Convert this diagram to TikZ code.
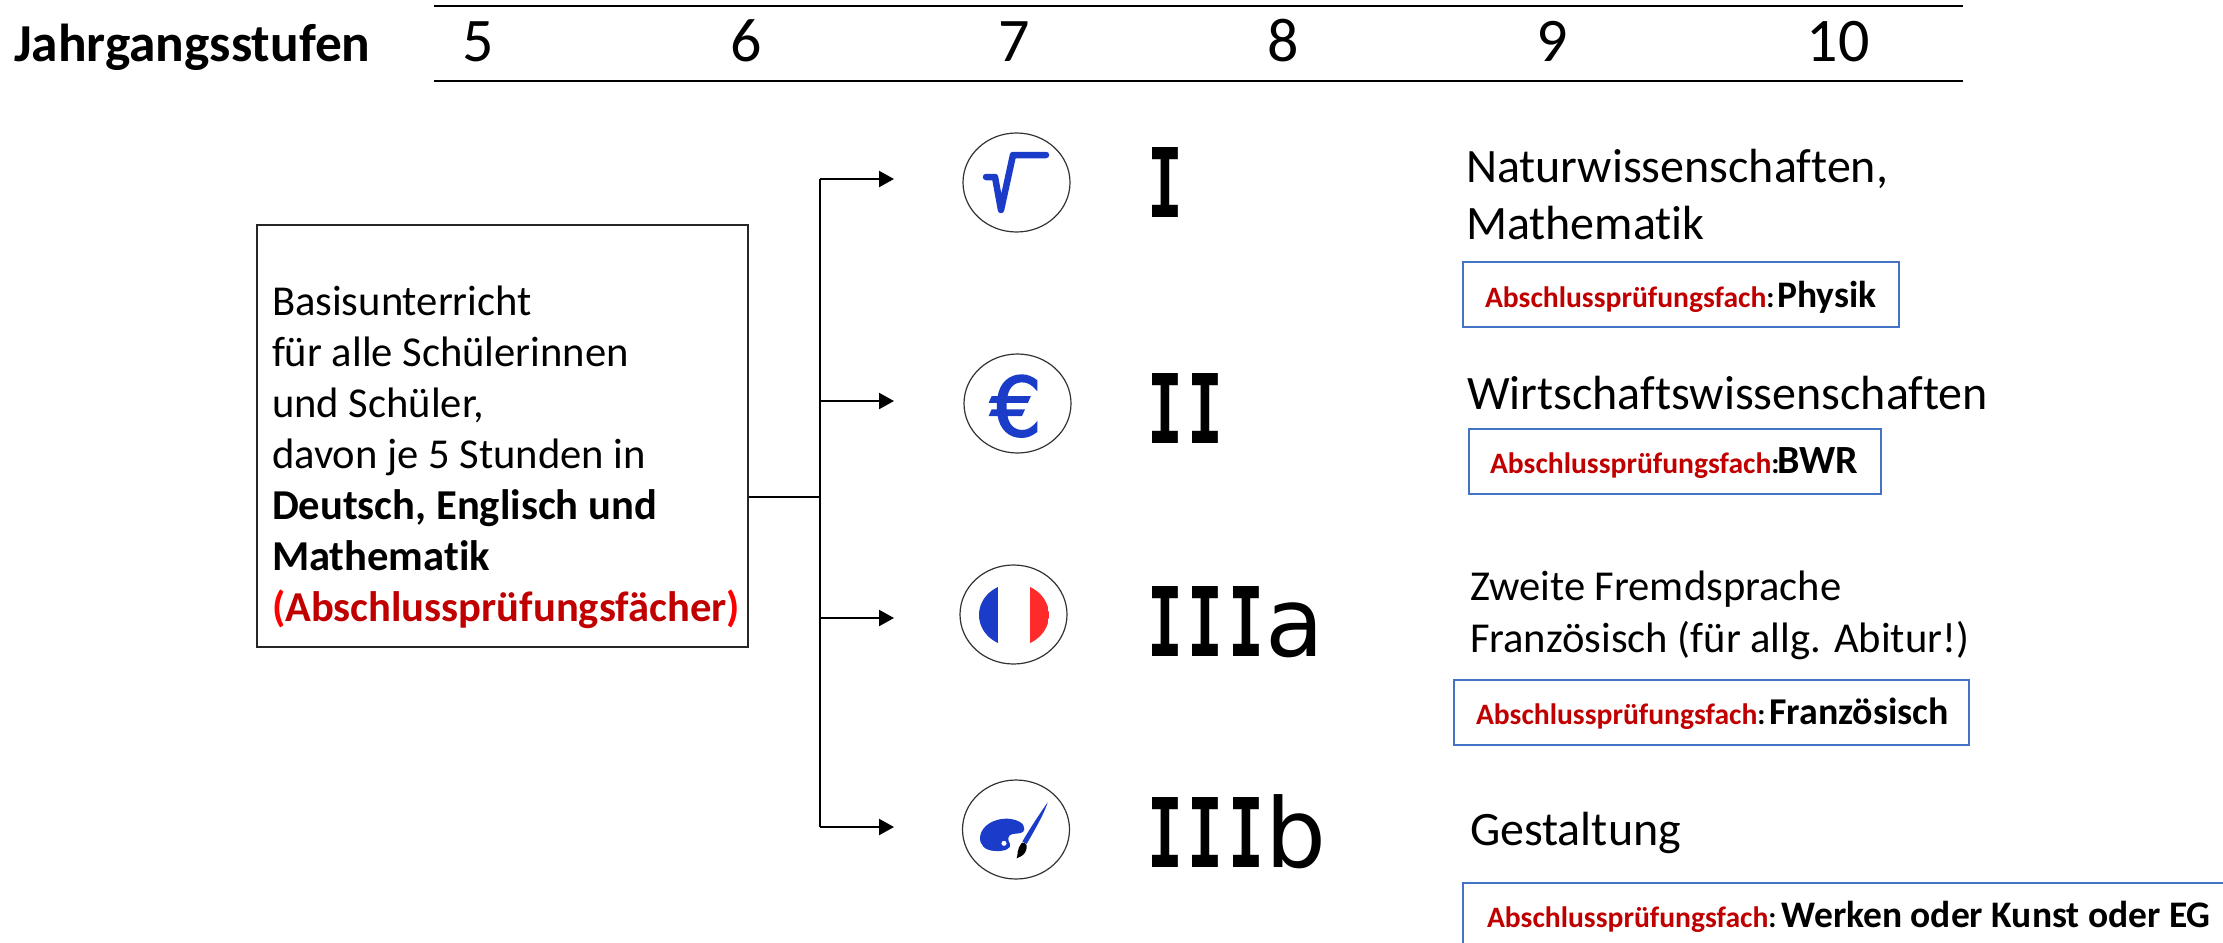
\documentclass[tikz,border=0pt]{standalone}
\usepackage{fontspec}
\setmainfont[Ligatures=NoCommon]{Carlito}
\newfontfamily\iconfont[FakeBold=2]{DejaVu Sans}
\newfontfamily\romfont[FakeStretch=0.62]{DejaVu Sans Mono Bold}
\newfontfamily\romlc{DejaVu Sans}
\usetikzlibrary{arrows.meta,shapes.geometric}
\definecolor{dred}{HTML}{C00000}
\definecolor{bblue}{HTML}{4472C4}
\definecolor{iblue}{HTML}{1A3CC8}
\definecolor{fred}{HTML}{FF2A2A}
\newcommand{\fs}[2]{\fontsize{#1}{#2}\selectfont}
\newcommand{\RI}{\makebox[41pt][l]{\hspace{-3pt}\fs{96}{110}\romfont I}}
\newcommand{\Lc}[1]{{\fs{96}{110}\romlc #1}}
\newcommand{\Abs}[1]{{\fs{29.6}{36}\bfseries\textcolor{dred}{Abschlussprüfungsfach}:}#1}
\tikzset{
  txt/.style={inner sep=0pt,outer sep=0pt,anchor=base west,align=left},
  yearno/.style={inner sep=0pt,outer sep=0pt,anchor=base,font=\fs{62}{70}},
  topic/.style={txt,font=\fs{48}{57}},
  topicsm/.style={txt,font=\fs{42.6}{52}},
  examtxt/.style={txt,font=\fs{37.5}{42}\bfseries},
  pbox/.style={draw=bblue,line width=2pt,inner sep=0pt},
  conn/.style={line width=2.2pt,black},
  tipped/.style={conn,-{Triangle[length=15pt,width=16pt]}},
  icon/.style={draw=black!80,line width=1.2pt,ellipse,inner sep=0pt},
}
\begin{document}
\begin{tikzpicture}[x=1pt,y=-1pt]
\path[clip,use as bounding box] (0,0) rectangle (2223,942);
% header
\node[txt,font=\fs{53.4}{60}\bfseries] (head) at (14,61) {Jahrgangsstufen};
\coordinate (tl) at (434,6); \coordinate (tr) at (1963,6);
\coordinate (bl) at (434,81); \coordinate (br) at (1963,81);
\draw[conn] (tl) -- (tr);
\draw[conn] (bl) -- (br);
\node[yearno] (y5) at (478,62) {5};
\node[yearno] (y6) at (746,62) {6};
\node[yearno] (y7) at (1014,62) {7};
\node[yearno] (y8) at (1283,62) {8};
\node[yearno] (y9) at (1552,62) {9};
\node[yearno] (y10) at (1838,62) {10};
% basis box
\node[draw=black!85,line width=2pt,inner sep=0pt,minimum width=491pt,minimum height=422pt] (basis) at (502.5,436) {};
\node[txt,font=\fs{42.6}{51}] (basistext) at (272,621.5) {Basisunterricht\\
für alle Schülerinnen\\
und Schüler,\\
davon je 5 Stunden in\\
\textbf{Deutsch, Englisch und}\\
\textbf{Mathematik}\\
\textbf{\textcolor{red}{(}\textcolor{dred}{Abschlussprüfungsfächer}\textcolor{red}{)}}};
% connectors
\coordinate (jmid) at (820,497);
\coordinate (j1) at (820,179); \coordinate (j2) at (820,401);
\coordinate (j3) at (820,618); \coordinate (j4) at (820,827);
\coordinate (a1) at (894,179); \coordinate (a2) at (894,401);
\coordinate (a3) at (894,618); \coordinate (a4) at (894,827);
\draw[conn] (basis.east |- jmid) -- (jmid);
\draw[conn] (j1) -- (j4);
\draw[tipped] (j1) -- (a1);
\draw[tipped] (j2) -- (a2);
\draw[tipped] (j3) -- (a3);
\draw[tipped] (j4) -- (a4);
% icons
\node[icon,minimum width=107pt,minimum height=99pt] (c1) at (1016.5,182.5) {};
\node[icon,minimum width=107pt,minimum height=99pt] (c2) at (1017.5,403.5) {};
\node[icon,minimum width=107pt,minimum height=99pt] (c3) at (1013.5,614.5) {};
\node[icon,minimum width=107pt,minimum height=99pt] (c4) at (1016,829.5) {};
\draw[iblue,line width=6.5pt,line cap=round,line join=round] (986,177) -- (995,177) -- (1001,210) -- (1013,155) -- (1046,155);
\node[inner sep=0pt,text=iblue,font=\fs{82}{90}\iconfont,anchor=base] (euro) at (1016,436) {€};
\begin{scope}
\clip (1014,615) ellipse [x radius=35,y radius=31.5];
\fill[iblue] (979,580) rectangle (998,650);
\fill[fred] (1030,580) rectangle (1049,650);
\end{scope}
\begin{scope}[shift={(930,540)},x=0.3333pt,y=-0.3333pt]
\fill[iblue,even odd rule] (150,890) .. controls (155,855) and (195,835) .. (232,836) .. controls (262,838) and (285,850) .. (283,868) .. controls (282,882) and (262,880) .. (248,882) .. controls (232,885) and (232,900) .. (240,912) .. controls (245,925) and (225,935) .. (195,933) .. controls (165,932) and (148,915) .. (150,890) -- cycle (222,910) circle (8);
\fill[iblue] (353,787) .. controls (345,815) and (320,860) .. (290,912) -- (277,905) .. controls (300,865) and (330,820) .. (353,787) -- cycle;
\fill[black] (276,908) .. controls (290,908) and (295,918) .. (285,938) .. controls (278,948) and (268,952) .. (260,955) .. controls (265,945) and (258,930) .. (276,908) -- cycle;
\end{scope}
% roman numerals
\node[txt] (r1) at (1150,217) {\RI};
\node[txt] (r2) at (1150,443) {\RI\RI};
\node[txt] (r3) at (1150,656) {\RI\RI\RI\hspace{-8pt}\Lc{a}};
\node[txt] (r4) at (1150,867) {\RI\RI\RI\hspace{-8pt}\Lc{b}};
% topics
\node[topic] (t1) at (1466,239.5) {Naturwissenschaften,\\Mathematik};
\node[topic] (t2) at (1467,409.5) {Wirtschaftswissenschaften};
\node[topicsm] (t3) at (1470,652) {Zweite Fremdsprache\\Französisch (für allg. Abitur!)};
\node[topic] (t4) at (1470,845) {Gestaltung};
% exam boxes
\node[pbox,minimum width=436pt,minimum height=65pt] (b1) at (1681,294.5) {};
\node[pbox,minimum width=412pt,minimum height=65pt] (b2) at (1675,461) {};
\node[pbox,minimum width=515pt,minimum height=65pt] (b3) at (1711.5,712.5) {};
\node[pbox,minimum width=860pt,minimum height=120pt] (b4) at (1893,943) {};
\node[examtxt] (e1) at (1485,307) {\Abs{\hspace{3pt}Physik}};
\node[examtxt,font=\fs{40}{46}\bfseries] (e2) at (1490,473) {\Abs{\hspace{-2pt}BWR}};
\node[examtxt,font=\fs{37.9}{46}\bfseries] (e3) at (1476,724) {\Abs{\hspace{4pt}Französisch}};
\node[examtxt] (e4) at (1487,927) {\Abs{\hspace{5pt}Werken oder Kunst oder EG}};
\end{tikzpicture}
\end{document}
